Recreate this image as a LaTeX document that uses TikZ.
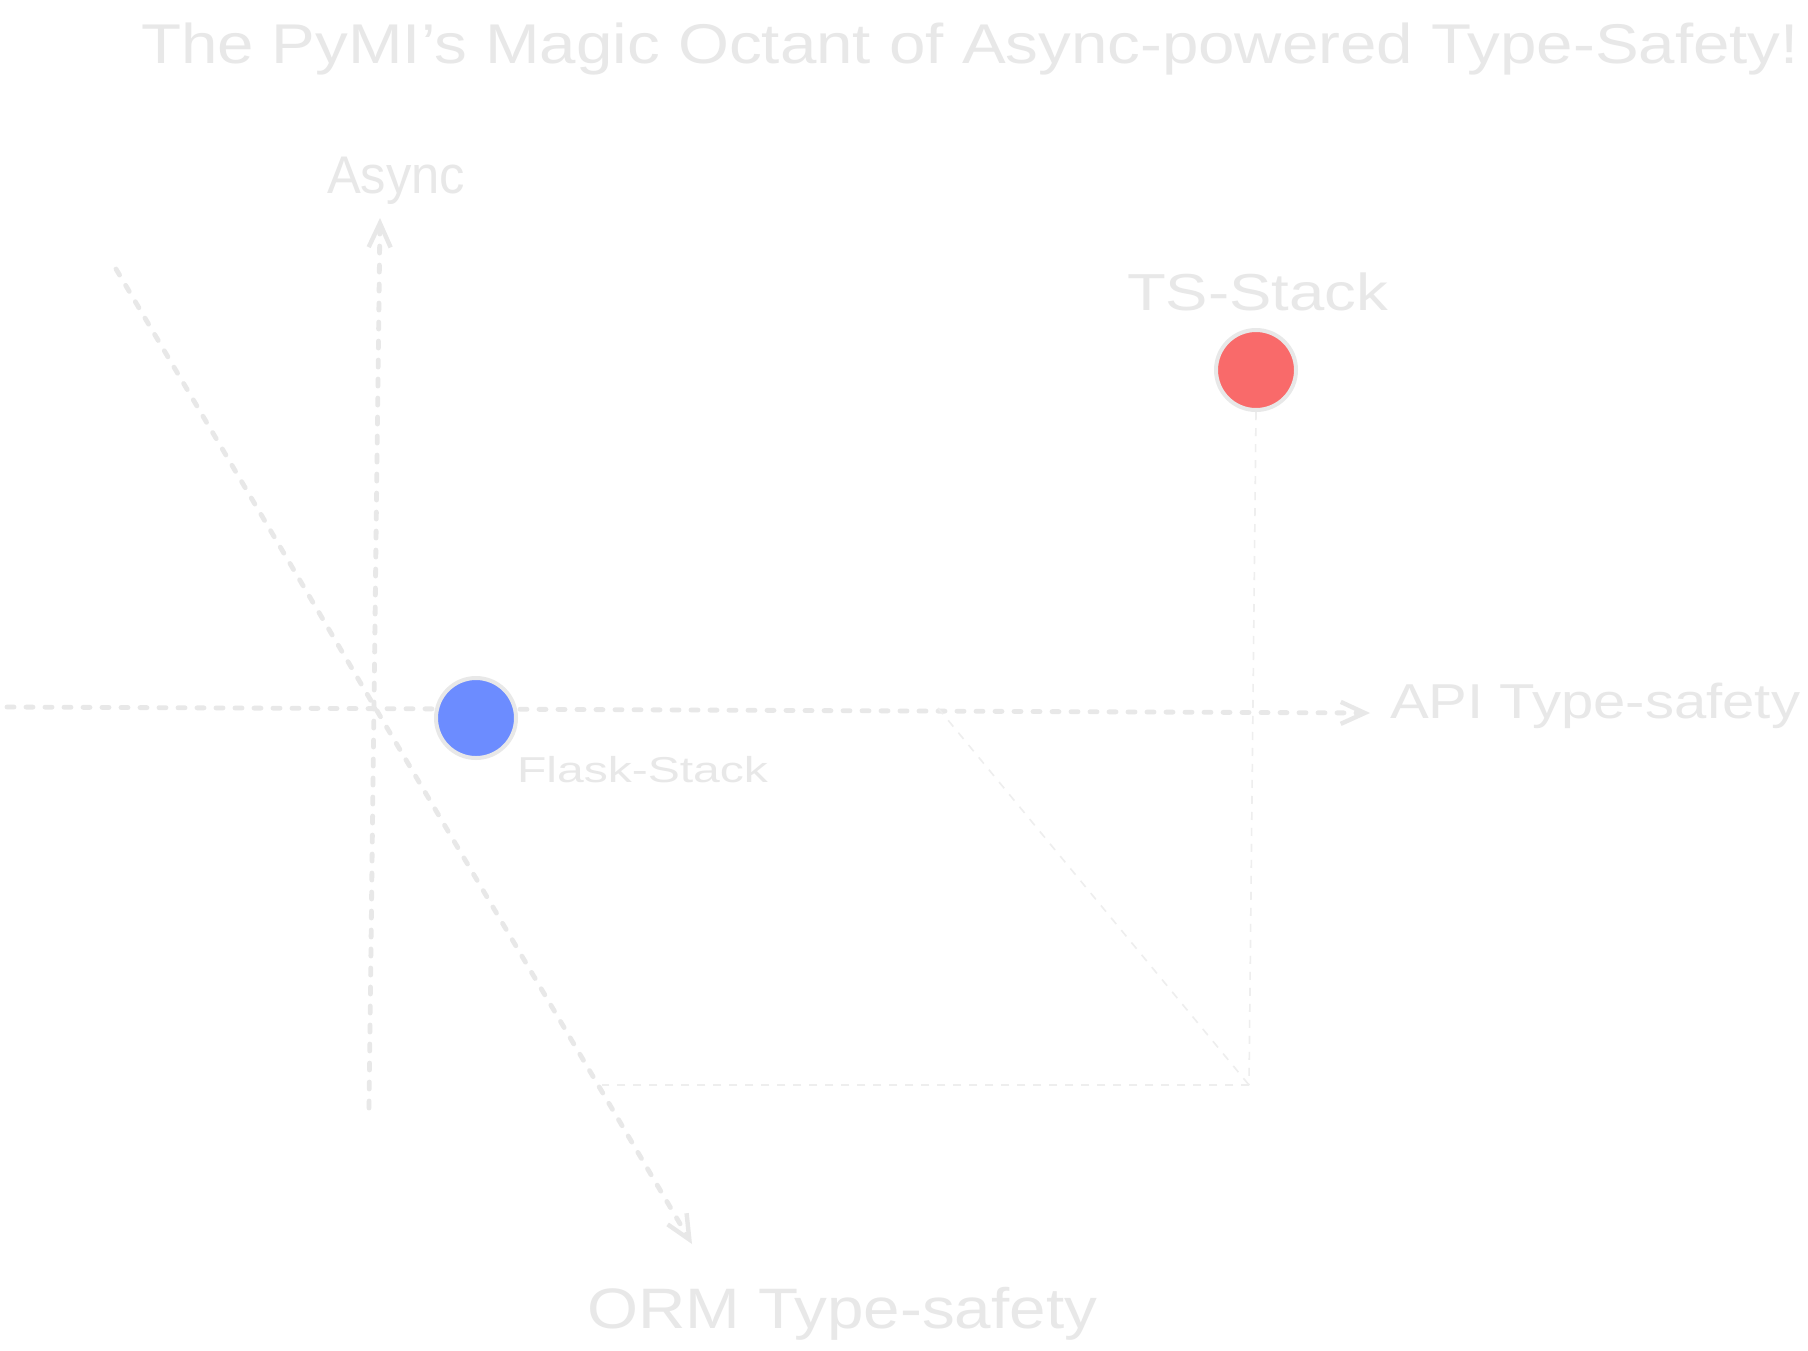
\documentclass[tikz,border=0pt]{standalone}
\usepackage{fontspec}
\setmainfont{Liberation Sans}
\usepackage{graphicx}
\usetikzlibrary{arrows.meta}
\definecolor{inkgray}{RGB}{232,232,232}
\definecolor{faintgray}{RGB}{238,238,238}
\definecolor{dotblue}{RGB}{108,140,255}
\definecolor{dotred}{RGB}{249,106,106}
\newcommand\fitx[2]{\setbox0\hbox{#2}\pgfmathsetmacro\fr{#1/\wd0}\scalebox{\fr}[1]{\box0}}
\tikzset{
  axis/.style={draw=inkgray, line width=2.4pt, line cap=round, dash pattern=on 3.5pt off 6pt,
    -{Straight Barb[length=12pt,width=11pt,line width=2.2pt]}},
  guide/.style={draw=faintgray, line width=0.8pt, dash pattern=on 4pt off 4pt},
  lbl/.style={text=inkgray, anchor=base west, inner sep=0pt, outer sep=0pt},
  dot/.style={circle, draw=inkgray, line width=2pt, minimum size=40pt, inner sep=0pt}
}
\begin{document}
\begin{tikzpicture}[x=0.5pt,y=-0.5pt]
\useasboundingbox[fill=white] (0,0) rectangle (1808,1350);
% coordinates
\coordinate (hl) at (7,707);
\coordinate (hr) at (1370,713);
\coordinate (vb) at (369,1108);
\coordinate (vt) at (380,218);
\coordinate (dt) at (116,269);
\coordinate (db) at (692,1244);
\coordinate (corner) at (1249,1085);
\coordinate (gleft) at (602,1085);
\coordinate (gmid) at (938,708);
% dot positions
\node[dot, draw=none] (flask) at (476,718) {};
\node[dot, draw=none] (ts) at (1256,370) {};
% axes
\draw[axis] (hl) -- (hr);
\draw[axis] (vb) -- (vt);
\draw[axis] (dt) -- (db);
% guides
\draw[guide] (ts.south) -- (corner);
\draw[guide] (corner) -- (gleft);
\draw[guide] (gmid) -- (corner);
% dots on top
\node[dot, fill=dotblue] at (flask) {};
\node[dot, fill=dotred] at (ts) {};
% labels
\node[lbl, font=\fontsize{28pt}{30pt}\selectfont] (title) at (141,63) {\fitx{829pt}{The PyMI's Magic Octant of Async-powered Type-Safety!}};
\node[lbl, font=\fontsize{26.5pt}{28pt}\selectfont] (async) at (327,193) {\fitx{69pt}{Async}};
\node[lbl, font=\fontsize{26pt}{28pt}\selectfont] (tslbl) at (1127,310) {\fitx{130.5pt}{TS-Stack}};
\node[lbl, font=\fontsize{24.5pt}{26pt}\selectfont] (api) at (1390,718) {\fitx{205pt}{API Type-safety}};
\node[lbl, font=\fontsize{18pt}{20pt}\selectfont] (flasklbl) at (517,782) {\fitx{125.5pt}{Flask-Stack}};
\node[lbl, font=\fontsize{28.5pt}{30pt}\selectfont] (orm) at (587,1328) {\fitx{255pt}{ORM Type-safety}};
\end{tikzpicture}
\end{document}
